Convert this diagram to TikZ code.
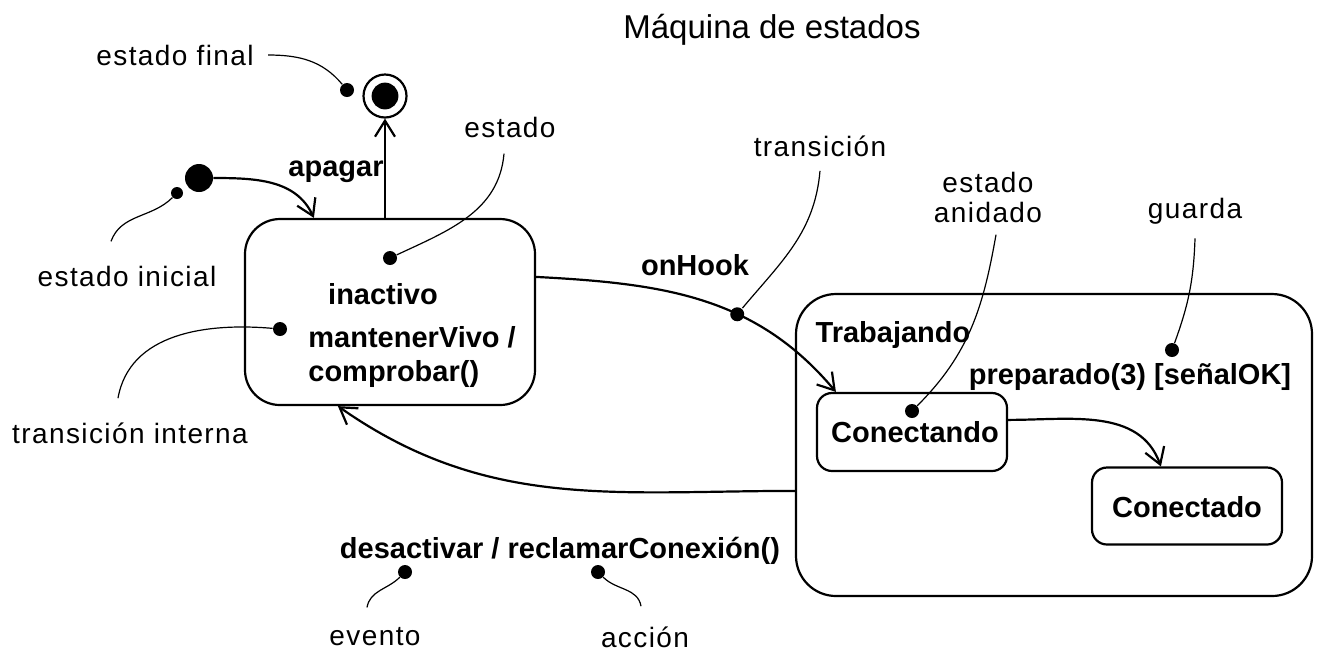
\documentclass[tikz,border=0pt]{standalone}
\usepackage{fontspec}
\setmainfont{Liberation Sans}
\newfontfamily\notefont[LetterSpace=5]{Liberation Sans}
\usetikzlibrary{arrows.meta}
\tikzset{
  txt/.style={font=\notefont\fontsize{14}{17}\selectfont, inner sep=0pt, align=center},
  btxt/.style={inner sep=0pt, font=\fontsize{14.5}{17}\selectfont\bfseries},
  state/.style={draw, line width=1.1pt, inner sep=0pt},
  dot/.style={circle, fill, inner sep=0pt, minimum size=7pt},
  trans/.style={line width=1.1pt, -{Straight Barb[length=8pt,width=10pt]}},
  note/.style={line width=0.6pt}
}
\begin{document}
\begin{tikzpicture}[x=0.5pt, y=-0.5pt]
    \useasboundingbox (0,0) rectangle (1321,661);
    % titulo
    \node[inner sep=0pt, font=\fontsize{16.5}{19}\selectfont] (titulo) at (772,30) {Máquina de estados};
    % estados
    \node[state, rounded corners=17.5pt, minimum width=145pt, minimum height=93pt] (inactivo) at (390,312) {};
    \node[state, rounded corners=20pt, minimum width=258pt, minimum height=151pt] (trabajando) at (1054,445) {};
    \node[state, rounded corners=7.5pt, minimum width=95pt, minimum height=39pt] (conectando) at (912,432) {};
    \node[state, rounded corners=7.5pt, minimum width=95pt, minimum height=38.5pt] (conectado) at (1187,506) {};
    \node[circle, fill, inner sep=0pt, minimum size=14pt] (inicial) at (199,178) {};
    \node[circle, draw, line width=1.1pt, inner sep=0pt, minimum size=21.5pt] (final) at (385,96) {};
    \node[circle, fill, inner sep=0pt, minimum size=13.4pt] (finalin) at (final) {};
    % textos de los estados
    \node[btxt] (tInactivo) at (383,294) {inactivo};
    \node[btxt, anchor=west] (tMantener) at (308,337) {mantenerVivo /};
    \node[btxt, anchor=west] (tComprobar) at (308,374) {comprobar()};
    \node[btxt] (tTrabajando) at (893,335) {Trabajando};
    \node[btxt] (tConectando) at (915,432) {Conectando};
    \node[btxt] (tConectado) at (1187,507) {Conectado};
    % transiciones
    \draw[trans] (inicial.east) to[out=0, in=115] ([xshift=35pt]inactivo.north west);
    \draw[trans] ([xshift=-2.5pt]inactivo.north) -- (final.south);
    \draw[trans] ([yshift=-29.5pt]inactivo.north east) to[out=-3, in=130]
        node[dot, pos=0.62] (dHook) {} ([xshift=10pt]conectando.north west);
    \draw[trans] ([yshift=-14pt]conectando.north east) to[out=0, in=110] ([xshift=35pt]conectado.north west);
    \draw[trans] ([yshift=-99pt]trabajando.north west) to[out=180, in=-35] ([xshift=47pt]inactivo.south west);
    \node[btxt] (lApagar) at (336,172) {apagar};
    \node[btxt] (lHook) at (695,265) {onHook};
    \node[btxt] (lPreparado) at (1130,377) {preparado(3) [señalOK]};
    \node[btxt] (lDesactivar) at (560,551) {desactivar / reclamarConexión()};
    % notas
    \node[txt] (nFinal) at (175,55) {estado final};
    \node[txt] (nInicial) at (127,276) {estado inicial};
    \node[txt] (nEstado) at (510,127) {estado};
    \node[txt] (nInterna) at (130,433) {transición interna};
    \node[txt] (nTransicion) at (820,146) {transición};
    \node[txt] (nAnidado) at (988,197) {estado\\[-2pt]anidado};
    \node[txt] (nGuarda) at (1195,211) {guarda};
    \node[txt] (nEvento) at (375,637) {evento};
    \node[txt] (nAccion) at (645,637) {acción};
    \node[dot] (dFinal) at (347,90) {};
    \node[dot, minimum size=6pt] (dInicial) at (177,193) {};
    \node[dot] (dEstado) at (390,258) {};
    \node[dot] (dInterna) at (280,329) {};
    \node[dot] (dAnidado) at (912,411) {};
    \node[dot] (dGuarda) at (1172,350) {};
    \node[dot] (dEvento) at (405,572) {};
    \node[dot] (dAccion) at (598,572) {};
    \draw[note] ([xshift=7pt]nFinal.east) to[out=0, in=130] (dFinal);
    \draw[note] ([xshift=-8pt,yshift=12pt]nInicial.north) to[out=70, in=225] (dInicial);
    \draw[note] ([xshift=-3pt,yshift=-8pt]nEstado.south) to[out=-95, in=25] (dEstado);
    \draw[note] ([xshift=-6pt,yshift=12pt]nInterna.north) to[out=80, in=175] (dInterna);
    \draw[note] ([yshift=-7pt]nTransicion.south) to[out=-95, in=50] (dHook);
    \draw[note] ([xshift=4pt,yshift=-6pt]nAnidado.south) to[out=-100, in=45] (dAnidado);
    \draw[note] ([yshift=-7pt]nGuarda.south) to[out=-92, in=70] (dGuarda);
    \draw[note] ([xshift=-4pt,yshift=10pt]nEvento.north) to[out=80, in=225] (dEvento);
    \draw[note] ([xshift=-2pt,yshift=10pt]nAccion.north) to[out=100, in=-45] (dAccion);
\end{tikzpicture}
\end{document}
